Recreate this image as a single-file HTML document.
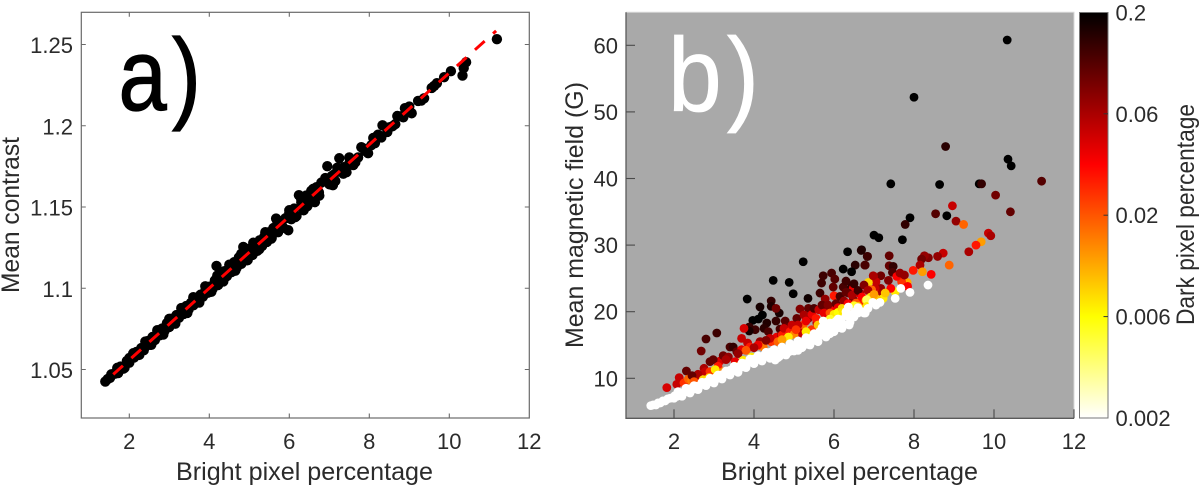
<!DOCTYPE html>
<html lang="en">
<head>
<meta charset="utf-8">
<title>Bright pixel percentage scatter plots</title>
<style>
html,body{margin:0;padding:0;background:#fff;width:1200px;height:487px;overflow:hidden}
svg{display:block;font-family:"Liberation Sans",Arial,sans-serif}
.tick{font-size:22px;fill:#2b2b2b}
.label{font-size:25px;fill:#2b2b2b}
</style>
</head>
<body>
<svg id="figure" xmlns="http://www.w3.org/2000/svg" width="1200" height="487" viewBox="0 0 1200 487">
  <defs>
    <linearGradient id="hotGradient" x1="0" y1="1" x2="0" y2="0">
      <stop offset="0" stop-color="#ffffff"/>
      <stop offset="0.25" stop-color="#ffff00"/>
      <stop offset="0.625" stop-color="#ff0000"/>
      <stop offset="1" stop-color="#000000"/>
    </linearGradient>
  </defs>

  <rect x="81.3" y="12.3" width="448" height="405.7" fill="#ffffff"/>
  <rect x="626" y="12.3" width="448" height="406" fill="#a9a9a9"/>
  <g id="panelA"></g>
  <g id="panelB"></g>
  <g id="axesA"></g>
  <g id="axesB"></g>

  <text transform="translate(118.5,110) scale(0.85,1)" font-size="102" fill="#000" stroke="#000" stroke-width="1.2"><tspan x="0">a</tspan><tspan x="63">)</tspan></text>
  <text transform="translate(668,111) scale(0.92,1)" font-size="105" fill="#fff" stroke="#fff" stroke-width="0.8"><tspan x="0">b</tspan><tspan x="64">)</tspan></text>

  <text class="label" x="176" y="480" textLength="257" lengthAdjust="spacingAndGlyphs">Bright pixel percentage</text>
  <text class="label" x="721" y="480" textLength="257" lengthAdjust="spacingAndGlyphs">Bright pixel percentage</text>
  <text class="label" transform="translate(19,293) rotate(-90)" textLength="156" lengthAdjust="spacingAndGlyphs">Mean contrast</text>
  <text class="label" transform="translate(583,348) rotate(-90)" textLength="266" lengthAdjust="spacingAndGlyphs">Mean magnetic field (G)</text>
  <text class="label" transform="translate(1194,325) rotate(-90)" textLength="221" lengthAdjust="spacingAndGlyphs">Dark pixel percentage</text>

  <rect x="1079.5" y="12.5" width="28.5" height="405.5" fill="url(#hotGradient)" stroke="#777" stroke-width="1"/>
  <g id="colorbarTicks"></g>
</svg>

<script>
// ---- shared axis tick values ----
const xTickValues = [2, 4, 6, 8, 10, 12];
const contrastTickValues = [1.05, 1.1, 1.15, 1.2, 1.25];
const contrastTickLabels = ["1.05", "1.1", "1.15", "1.2", "1.25"];
const fieldTickValues = [10, 20, 30, 40, 50, 60];
const colorbarTickLabels = ["0.002", "0.006", "0.02", "0.06", "0.2"];
const colorbarTickValues = [0.002, 0.006, 0.02, 0.06, 0.2];

// ---- panel a: fit line end points ----
const fitX = [1.39, 11.17];
const fitY = [1.0424, 1.2584];

// ---- panel a: bright pixel percentage ----
const contrastX = [
1.40,1.46,1.52,1.58,1.64,1.70,1.72,1.78,1.84,1.88,
1.94,2.00,2.06,2.12,2.18,2.24,2.30,2.36,2.40,2.46,
2.52,2.58,2.64,2.70,2.76,2.82,2.88,2.94,3.00,3.05,
3.12,3.18,3.24,3.30,3.36,3.42,3.48,3.54,3.60,3.66,
3.72,3.78,3.84,3.90,3.96,4.02,4.08,4.14,4.18,4.22,
4.26,4.32,4.38,4.44,4.50,4.56,4.62,4.68,4.74,4.80,
4.85,4.90,4.96,5.02,5.08,5.14,5.20,5.26,5.32,5.38,
5.44,5.50,5.56,5.60,5.67,5.72,5.78,5.84,5.90,5.975,
6.00,6.05,6.12,6.18,6.24,6.30,6.36,6.42,6.48,6.55,
6.60,6.64,6.68,6.74,6.80,6.89,6.95,7.00,7.06,7.09,
7.12,7.15,7.25,7.30,7.36,7.43,7.50,7.60,7.64,7.72,
7.84,7.90,7.97,8.05,8.14,8.19,8.22,8.33,8.50,8.58,
8.65,8.80,8.89,8.95,9.06,9.22,9.30,9.37,9.56,9.62,
9.69,9.87,10.04,10.33,10.36,10.42,11.19,
2.10,2.25,2.40,2.55,2.70,2.85,3.00,3.15,3.30,3.45,
3.60,3.75,3.90,4.05,4.20,4.35,4.50,4.65,4.80,4.95,
5.10,5.25,5.40,5.55,5.70,5.85,6.00,6.15,6.30,6.45,
6.60,6.75,6.90,7.05,7.20,7.35,7.50,7.65,7.80,7.95,
8.10,8.30,8.45,8.70,8.85,9.00,2.00,1.85,1.70,1.55
];
// ---- panel a: mean contrast ----
const contrastY = [
1.0426,1.0441,1.0449,1.0470,1.0474,1.0498,1.0478,1.0518,1.0516,1.0510,
1.0553,1.0542,1.0580,1.0574,1.0608,1.0592,1.0632,1.0618,1.0640,1.0675,
1.0652,1.0700,1.0682,1.0725,1.0710,1.0752,1.0738,1.0785,1.0762,1.0812,
1.0790,1.0835,1.0818,1.0855,1.0842,1.0890,1.0868,1.0910,1.0895,1.0935,
1.0920,1.0960,1.0948,1.0985,1.0972,1.1010,1.0995,1.1048,1.1137,1.1020,
1.1085,1.1050,1.1105,1.1075,1.1130,1.1100,1.1160,1.1125,1.1190,1.1150,
1.1254,1.1215,1.1175,1.1245,1.1205,1.1275,1.1230,1.1295,1.1260,1.1320,
1.1285,1.1345,1.1310,1.1370,1.1429,1.1345,1.1395,1.1375,1.1430,1.1357,
1.1465,1.1425,1.1490,1.1445,1.1573,1.1530,1.1480,1.1570,1.1520,1.1600,
1.1555,1.1530,1.1622,1.1590,1.1650,1.1665,1.1751,1.1640,1.1690,1.1634,
1.1700,1.1660,1.1800,1.1720,1.1745,1.1714,1.1770,1.1758,1.1788,1.1805,
1.1862,1.1845,1.1831,1.1880,1.1893,1.1936,1.1945,1.2003,1.1990,1.1997,
1.2010,1.2059,1.2108,1.2090,1.2077,1.2153,1.2155,1.2169,1.2233,1.2245,
1.2262,1.2299,1.2336,1.2309,1.2355,1.2391,1.2533,
1.0600,1.0590,1.0672,1.0652,1.0742,1.0715,1.0812,1.0782,1.0878,1.0848,
1.0945,1.0912,1.1012,1.0978,1.1078,1.1042,1.1145,1.1108,1.1212,1.1172,
1.1280,1.1240,1.1345,1.1305,1.1412,1.1372,1.1480,1.1438,1.1545,1.1505,
1.1612,1.1570,1.1678,1.1638,1.1742,1.1705,1.1805,1.1775,1.1868,1.1842,
1.1925,1.1928,1.1962,1.2060,1.2052,1.2118,1.0570,1.0505,1.0510,1.0470
];

// ---- panel b: coloured points, bright pixel percentage ----
const fieldX = [
10.33,8.0,8.79,10.35,10.43,11.19,7.42,8.64,9.63,9.69,
10.04,8.96,10.41,8.54,8.82,7.9,7.78,9.05,9.24,9.86,
9.92,9.68,9.55,9.37,7.0,7.12,7.71,6.69,6.83,6.77,
7.38,7.38,7.48,7.46,8.73,8.59,8.36,8.26,8.19,8.15,
7.98,8.21,8.43,8.88,7.83,7.69,7.57,7.76,7.65,7.84,
7.53,7.42,7.36,7.17,6.99,7.05,6.86,7.17,7.03,6.9,
3.83,4.48,4.88,4.98,5.23,5.35,6.34,6.68,6.84,6.53,
6.78,6.23,6.44,4.15,4.21,4.11,3.97,4.43,4.43,4.63,
4.32,4.25,4.03,3.88,3.88,4.36,4.55,4.78,4.78,4.65,
4.55,3.75,3.07,2.8,2.68,2.31,1.82,2.13,2.07,2.25,
2.36,2.44,2.55,2.75,2.9,2.78,3.15,2.98,3.23,3.4,
3.48,3.36,3.57,3.69,3.84,3.9,3.69,3.53,4.15,4.15,
4.43,4.23,4.57,4.69,4.96,5.15,5.07,5.36,5.36,5.23,
5.44,5.57,5.19,5.73,5.69,5.94,6.02,5.98,6.23,5.65,
5.78,6.0,6.0,5.78,6.44,6.48,6.36,6.48,6.67,6.98,
6.3,6.94,6.61,6.65,6.69,6.72,7.07,7.17,5.1,5.25,
5.3,5.45,5.5,5.55,5.62,5.7,5.75,5.85,5.9,6.05,
6.1,6.15,6.25,6.3,6.35,6.45,6.55,6.6,6.7,6.75,
6.85,6.5,4.7,4.75,4.9,4.95,5.0,5.05,4.4,4.6,
4.3,4.1,4.0,3.8,3.3,3.1,2.9,2.6,2.45,2.5,
3.6,2.73,2.88,3.03,3.73,3.94,3.68,3.23,3.53,4.86,
6.0,6.1,6.2,6.4,6.6,6.8,5.3,5.6,6.23,5.98,
6.92,7.23,7.28,6.82,6.82,7.07,5.9,6.5,7.0,4.7
];
// ---- panel b: coloured points, mean magnetic field ----
const fieldY = [
60.8,52.2,44.8,42.9,41.9,39.6,39.2,39.1,39.2,39.2,
37.5,35.9,35.0,34.7,34.4,34.1,33.1,33.6,33.1,31.8,
31.4,30.5,30.0,29.0,31.5,31.1,30.8,29.3,28.3,27.0,
28.4,26.9,26.8,25.9,28.8,28.3,28.1,28.4,27.9,27.0,
26.2,26.0,25.6,27.0,24.4,24.5,25.3,25.5,25.8,23.8,
23.0,23.5,24.7,25.4,25.3,24.5,24.4,23.5,23.5,23.3,
21.9,24.7,24.4,22.7,27.5,22.0,29.0,29.2,28.3,27.0,
27.0,26.4,26.0,20.7,19.5,18.9,18.7,21.6,20.8,19.8,
18.3,17.5,17.3,17.7,17.1,17.0,18.6,18.6,17.7,17.4,
20.5,17.5,16.8,15.9,14.1,11.1,8.6,10.1,9.1,9.3,
9.9,9.6,10.2,11.5,12.5,11.0,12.6,12.8,13.4,14.7,
14.7,13.2,14.0,16.0,15.3,14.7,14.3,12.5,15.5,14.9,
15.5,14.7,16.2,16.5,17.7,20.4,19.0,20.5,19.0,18.0,
17.3,18.3,16.8,25.4,24.3,25.8,24.9,23.7,23.7,22.8,
21.9,22.4,20.5,20.5,23.7,23.5,22.8,21.8,21.6,25.4,
24.6,23.3,22.8,22.8,21.6,20.4,22.5,22.6,18.0,19.5,
18.6,19.6,20.5,19.0,20.3,21.0,19.8,21.0,19.8,21.2,
20.6,22.3,21.6,22.9,21.2,22.5,21.3,23.2,22.2,24.0,
23.2,24.2,16.5,17.5,17.0,18.0,16.6,17.3,16.0,15.5,
15.7,15.0,14.6,14.2,12.8,11.8,11.0,10.6,10.4,9.5,
13.7,9.8,10.1,11.3,12.7,13.2,12.0,11.0,11.8,16.2,
19.6,19.9,20.5,20.3,20.8,21.7,17.0,18.0,20.0,18.9,
22.2,22.0,22.8,21.8,20.8,21.9,18.9,20.9,22.6,15.8
];
// ---- panel b: coloured points, dark pixel percentage ----
const fieldDark = [
.2,.2,.15,.2,.2,.11,.2,.2,.2,.14,
.09,.05,.1,.11,.2,.2,.14,.07,.018,.05,
.06,.012,.03,.06,.2,.2,.2,.18,.15,.12,
.1,.1,.14,.12,.05,.07,.08,.07,.09,.06,
.03,.012,.035,.018,.011,.025,.035,.07,.07,.035,
.007,.035,.08,.09,.06,.05,.008,.07,.05,.018,
.2,.2,.2,.2,.2,.18,.2,.16,.13,.15,
.12,.2,.2,.17,.2,.2,.2,.14,.16,.17,
.16,.15,.13,.14,.17,.12,.14,.11,.1,.12,
.09,.045,.13,.12,.09,.1,.045,.05,.05,.025,
.018,.015,.05,.06,.1,.05,.045,.1,.09,.12,
.14,.07,.1,.05,.05,.03,.04,.04,.07,.02,
.025,.016,.04,.1,.03,.08,.1,.1,.07,.018,
.025,.05,.05,.13,.13,.12,.11,.1,.12,.13,
.07,.03,.035,.07,.15,.04,.1,.09,.03,.06,
.13,.018,.035,.06,.03,.013,.02,.06,.05,.06,
.04,.04,.12,.03,.05,.1,.04,.08,.02,.1,
.04,.12,.07,.1,.035,.06,.02,.13,.035,.08,
.06,.14,.03,.05,.03,.05,.014,.025,.05,.018,
.08,.04,.06,.02,.06,.03,.025,.06,.1,.02,
.07,.008,.007,.007,.007,.007,.009,.014,.012,.007,
.007,.006,.008,.012,.009,.01,.007,.009,.007,.007,
.007,.007,.009,.004,.007,.009,.005,.005,.012,.012
];

// ---- panel b: lowest-dark (white) points ----
const whiteX = [
1.42,1.48,1.55,1.6,1.66,1.72,1.78,1.84,1.9,1.96,
2.02,2.08,2.14,2.2,2.26,2.32,2.38,2.44,2.5,2.56,
2.62,2.68,2.74,2.8,2.86,2.92,2.98,3.04,3.1,3.16,
3.22,3.28,3.34,3.4,3.46,3.52,3.58,3.64,3.7,3.76,
3.82,3.88,3.94,4.0,4.06,4.12,4.2,4.26,4.32,4.4,
4.45,4.5,4.53,4.58,4.64,4.7,4.76,4.82,4.88,4.94,
5.0,5.05,5.1,5.16,5.22,5.28,5.34,5.4,5.46,5.52,
5.58,5.64,5.7,5.73,5.78,5.84,5.9,5.96,5.98,6.04,
6.1,6.16,6.22,6.3,6.38,6.36,6.42,6.53,6.6,6.75,
6.78,6.97,7.15,7.53,7.67,7.9,8.35,
2.0,2.1,2.2,2.3,2.4,2.5,2.6,2.7,2.8,2.9,
3.0,3.1,3.2,3.3,3.4,3.5,3.6,3.7,3.8,3.9,
4.0,4.1,4.2,4.3,4.4,4.5,4.6,4.7,4.8,4.9,
5.0,5.1,5.2,5.3,5.4,5.5,5.6,5.7,5.8,5.9,
6.0,6.1,6.2,6.3,6.4,6.5,6.6,6.7,6.85,7.05
];
const whiteY = [
5.9,6.0,6.0,6.3,6.3,6.6,6.6,6.9,7.0,7.1,
7.4,7.3,7.7,7.8,7.9,8.2,8.1,8.5,8.4,8.8,
8.7,9.1,9.1,9.4,9.4,9.8,9.7,10.1,10.0,10.5,
10.4,10.9,10.7,11.2,11.1,11.5,11.4,11.8,11.7,12.2,
12.1,12.5,12.5,12.9,12.8,13.2,13.0,13.5,13.4,13.9,
13.3,13.2,12.75,13.7,13.3,14.0,13.6,14.4,14.0,14.8,
14.3,15.0,14.2,15.2,14.9,15.6,15.1,16.0,15.6,16.4,
16.0,17.0,16.5,18.6,17.5,17.0,16.7,18.0,17.4,18.5,
17.6,18.8,18.2,19.4,18.0,20.7,19.5,20.0,19.8,19.8,
19.8,21.4,21.4,22.0,23.5,22.9,24.0,
7.0,8.0,7.3,8.5,7.8,8.9,8.3,9.4,8.9,10.0,
9.3,10.5,9.9,11.1,10.5,11.8,10.9,12.3,11.6,12.9,
12.2,13.4,12.6,13.9,13.0,14.3,13.1,14.7,13.5,15.2,
14.1,15.6,14.6,16.1,15.0,16.7,15.5,17.6,16.2,18.3,
17.0,18.9,17.5,20.0,18.4,19.2,20.6,20.0,20.5,21.0
];
const whiteDark = 0.002;

const SVG_NS = "http://www.w3.org/2000/svg";

// axis functions
const xA = v => 81.3 + (v - 0.8) * 40;
const yA = v => 369.5 - (v - 1.05) * 1625;
const xB = v => 626 + (v - 0.8) * 40;
const yB = v => 378.3 - (v - 10) * 6.66;

// colour scale: tick values are evenly spaced along the colour bar
function darkToFraction(d) {
  const v = colorbarTickValues;
  if (d <= v[0]) return 0;
  for (let i = 0; i < v.length - 1; i++) {
    if (d <= v[i + 1]) {
      const f = (Math.log(d) - Math.log(v[i])) / (Math.log(v[i + 1]) - Math.log(v[i]));
      return (i + f) / (v.length - 1);
    }
  }
  return 1;
}
function hotColor(d) {
  const t = 1 - darkToFraction(d);
  const r = Math.min(1, t / 0.375);
  const g = Math.max(0, Math.min(1, (t - 0.375) / 0.375));
  const b = Math.max(0, Math.min(1, (t - 0.75) / 0.25));
  return "rgb(" + Math.round(r * 255) + "," + Math.round(g * 255) + "," + Math.round(b * 255) + ")";
}
function make(tag, attrs, parent) {
  const el = document.createElementNS(SVG_NS, tag);
  for (const k in attrs) el.setAttribute(k, attrs[k]);
  parent.appendChild(el);
  return el;
}

const panelA = document.getElementById("panelA");
const panelB = document.getElementById("panelB");
const axesA = document.getElementById("axesA");
const axesB = document.getElementById("axesB");
const colorbarTicks = document.getElementById("colorbarTicks");

// panel a points
contrastX.forEach((x, i) => {
  const c = make("circle", { cx: xA(x), cy: yA(contrastY[i]), r: 5.2, fill: "#000" }, panelA);
  
  
});
// panel a fit line
const fit = make("line", {
  x1: xA(fitX[0]), y1: yA(fitY[0]), x2: xA(fitX[1]), y2: yA(fitY[1]),
  stroke: "#ff0000", "stroke-width": 3, "stroke-dasharray": "13 11.3", "stroke-dashoffset": 13.1
}, panelA);



// panel b points
fieldX.forEach((x, i) => {
  const c = make("circle", { cx: xB(x), cy: yB(fieldY[i]), r: 4.4, fill: hotColor(fieldDark[i]) }, panelB);
  
  
});
whiteX.forEach((x, i) => {
  const c = make("circle", { cx: xB(x), cy: yB(whiteY[i]), r: 4.4, fill: hotColor(whiteDark) }, panelB);
  
  
});

// panel a axes box
const boxA = make("rect", { x: 81.3, y: 12.3, width: 448, height: 405.7, fill: "none", stroke: "#6a6a6a", "stroke-width": 1.2 }, axesA);



xTickValues.forEach(v => {
  const px = xA(v);
  if (v < 12) {
    const t = make("path", { d: "M" + px + " 418v-4.5M" + px + " 12.3v4.5", stroke: "#6a6a6a", "stroke-width": 1.1, fill: "none" }, axesA);
    
    
  }
  const l = make("text", { x: px, y: 449, "text-anchor": "middle", class: "tick" }, axesA);
  
  
  l.textContent = String(v);
});
contrastTickValues.forEach((v, i) => {
  const py = yA(v);
  const t = make("path", { d: "M81.3 " + py + "h4.5M529.3 " + py + "h-4.5", stroke: "#6a6a6a", "stroke-width": 1.1, fill: "none" }, axesA);
  
  
  const l = make("text", { x: 73, y: py + 8.5, "text-anchor": "end", class: "tick" }, axesA);
  
  
  l.textContent = contrastTickLabels[i];
});

// panel b axes
const edgeB = make("path", { d: "M626 12.3H1074V418", stroke: "#d8d8d8", "stroke-width": 1, fill: "none" }, axesB);


const spineB = make("path", { d: "M626 12.3V418.3H1074", stroke: "#5a5a5a", "stroke-width": 1.3, fill: "none" }, axesB);



xTickValues.forEach(v => {
  const px = xB(v);
  const t = make("line", { x1: px, x2: px, y1: 418.3, y2: 409.3, stroke: "#4a4a4a", "stroke-width": 1.1 }, axesB);
  
  
  const l = make("text", { x: px, y: 449, "text-anchor": "middle", class: "tick" }, axesB);
  
  
  l.textContent = String(v);
});
fieldTickValues.forEach(v => {
  const py = yB(v);
  const t = make("line", { x1: 626, x2: 635, y1: py, y2: py, stroke: "#4a4a4a", "stroke-width": 1.1 }, axesB);
  
  
  const l = make("text", { x: 618, y: py + 8, "text-anchor": "end", class: "tick" }, axesB);
  
  
  l.textContent = String(v);
});

// colour bar ticks
colorbarTickLabels.forEach((lab, i) => {
  const py = 418 - darkToFraction(colorbarTickValues[i]) * 405.6;
  if (i > 0 && i < colorbarTickLabels.length - 1) {
    const t = make("line", { x1: 1103.5, x2: 1108, y1: py, y2: py, stroke: "#333", "stroke-width": 1 }, colorbarTicks);
    
    
  }
  const l = make("text", { x: 1115.5, y: py + 8, class: "tick" }, colorbarTicks);
  
  
  l.textContent = lab;
});
</script>
</body>
</html>
